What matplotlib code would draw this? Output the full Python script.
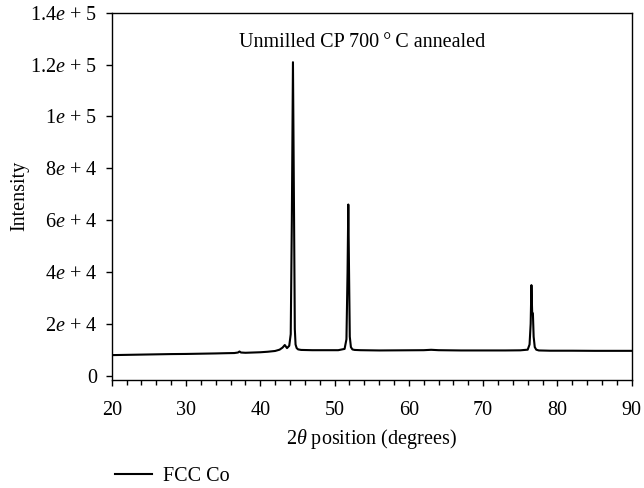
import matplotlib
matplotlib.use("Agg")
import matplotlib.pyplot as plt
from matplotlib.ticker import MultipleLocator

# ---- data ----
two_theta = [20.0, 22.0, 24.0, 26.0, 28.0, 30.0, 32.0, 34.0, 35.5, 36.5, 37.0, 37.2, 37.4, 38.0,
             40.0, 41.0, 42.0, 42.6, 43.0, 43.3, 43.6, 43.9, 44.1, 44.25, 44.4, 44.55, 44.65,
             44.75, 44.9, 45.1, 45.5, 47.0, 49.0, 50.5, 51.35, 51.6, 51.75, 51.85, 51.95, 52.05,
             52.2, 52.4, 52.7, 53.5, 56.0, 59.0, 62.0, 63.0, 64.0, 67.0, 70.0, 73.0, 75.0, 76.0,
             76.25, 76.4, 76.5, 76.6, 76.7, 76.8, 76.95, 77.15, 77.5, 79.0, 82.0, 85.0, 88.0, 90.0]
intensity = [7900, 8000, 8100, 8200, 8300, 8350, 8450, 8550, 8650, 8700, 8900, 9300, 8900, 8800,
             9000, 9200, 9500, 10000, 10800, 11800, 10600, 11500, 16000, 60000, 120900, 60000, 18000,
             12000, 10600, 10100, 9900, 9800, 9800, 9800, 10300, 14000, 40000, 66000, 40000, 15000,
             11000, 10100, 9900, 9800, 9700, 9750, 9800, 9950, 9800, 9700, 9700, 9700, 9750, 10000,
             12000, 20000, 34900, 24500, 24000, 15000, 11000, 10000, 9700, 9600, 9600, 9550, 9550, 9550]

x_ticks = [20, 30, 40, 50, 60, 70, 80, 90]
y_ticks = [0, 20000, 40000, 60000, 80000, 100000, 120000, 140000]
y_tick_labels = ["0", "2$e$ + 4", "4$e$ + 4", "6$e$ + 4", "8$e$ + 4", "1$e$ + 5", "1.2$e$ + 5", "1.4$e$ + 5"]

title_text = "Unmilled CP 700\u2009°\u2009C annealed"
series_label = "FCC Co"

# ---- style ----
plt.rcParams['font.family'] = ['Liberation Serif', 'DejaVu Serif']
plt.rcParams['mathtext.fontset'] = 'custom'
plt.rcParams['mathtext.rm'] = 'Liberation Serif'
plt.rcParams['mathtext.it'] = 'Liberation Serif:italic'

FS = 14.5

fig = plt.figure(figsize=(6.44, 4.88), dpi=100)
ax = fig.add_axes([111.7 / 644, 1 - 380 / 488, (631.7 - 111.7) / 644, (380 - 12.7) / 488])

line, = ax.plot(two_theta, intensity, color='black', lw=1.5, label=series_label)

ax.set_xlim(20, 90)
ax.set_ylim(-1700, 140000)
ax.set_xticks(x_ticks)
ax.xaxis.set_minor_locator(MultipleLocator(2))
ax.set_yticks(y_ticks)
ax.set_yticklabels(y_tick_labels)

ax.tick_params(axis='both', which='major', direction='out', length=4.5, width=1, labelsize=FS)
ax.tick_params(axis='x', which='major', pad=10.5)
ax.tick_params(axis='y', which='major', pad=6)
ax.tick_params(axis='x', which='minor', direction='out', length=3.5, width=1)
for s in ax.spines.values():
    s.set_linewidth(1)

ax.set_xlabel("2$\\theta$ position (degrees)", fontsize=FS, labelpad=5)
ax.set_ylabel("Intensity", fontsize=FS, labelpad=1)

ax.text(0.481, 0.919, title_text, transform=ax.transAxes, ha='center', va='center', fontsize=FS)

fig.legend(handles=[line], loc='center left', bbox_to_anchor=(115 / 644, 1 - 476.7 / 488),
           frameon=False, fontsize=FS, handlelength=1.82, handletextpad=0.55,
           borderaxespad=0, borderpad=0)

fig.savefig("out.png", dpi=100)
